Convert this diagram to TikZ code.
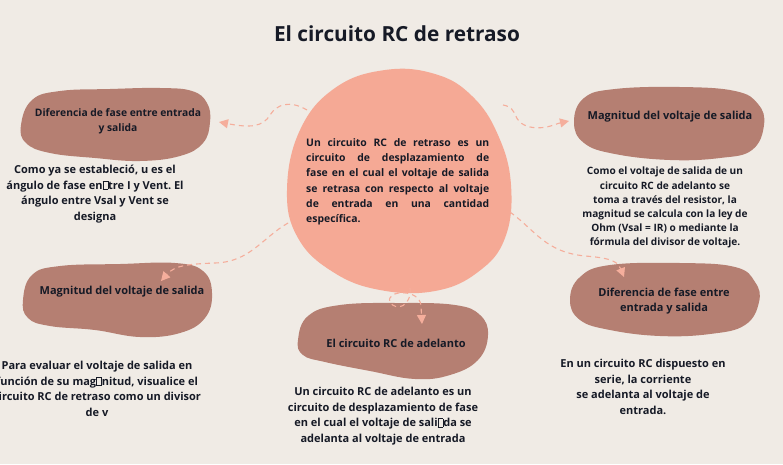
\documentclass[tikz,border=0pt]{standalone}
\usepackage{fontspec}
\setmainfont{Open Sans}
\usetikzlibrary{arrows.meta}
\frenchspacing
\definecolor{bg}{HTML}{F0EBE5}
\definecolor{blobbrown}{HTML}{B57F72}
\definecolor{blobsalmon}{HTML}{F5A995}
\definecolor{conncol}{HTML}{F5AE9C}
\definecolor{txt}{HTML}{161A26}
\newcommand\nogl{{\setlength\fboxsep{0pt}\setlength\fboxrule{0.5pt}\fbox{\rule{0pt}{7.8pt}\hspace{4.6pt}}}}
\newcommand\jline[1]{\makebox[183pt][s]{#1}}
\tikzset{
  brownblob/.style={fill=blobbrown, draw=none},
  centreblob/.style={fill=blobsalmon, draw=none},
  lbl/.style={text=txt, font=\fontsize{11}{15}\selectfont\bfseries, align=center, inner sep=0pt},
  desc/.style={text=txt, font=\fontsize{11}{15.5}\selectfont\bfseries, align=center, inner sep=0pt},
  descs/.style={text=txt, font=\fontsize{10.1}{14.2}\selectfont\bfseries, align=center, inner sep=0pt},
  conn/.style={draw=conncol, line width=1.1pt, dash pattern=on 5pt off 4pt,
     -{Triangle[length=9pt,width=9pt]}},
}
\begin{document}
\begin{tikzpicture}[x=1pt,y=-1pt]
\fill[bg] (0,0) rectangle (783,464);
\useasboundingbox (0,0) rectangle (783,464);
\clip (0,0) rectangle (783,464);

% title
\node[text=txt, font=\fontsize{20.8}{24}\selectfont\bfseries, inner sep=0pt] (title) at (397,34) {El circuito RC de retraso};

% blobs
\fill[centreblob] plot[smooth cycle, tension=0.7] coordinates {
 (385,70) (435,74) (472,96) (498,135) (511,185) (505,238) (478,272) (435,291) (380,290) (333,272) (298,238) (287,190) (300,130) (335,88)};
\fill[brownblob] plot[smooth cycle, tension=0.7] coordinates {
 (21,125) (32,100) (60,91) (110,89) (160,88) (192,91) (207,103) (210,122) (203,143) (180,156) (140,161) (95,158) (50,153) (26,143)};
\fill[brownblob] plot[smooth cycle, tension=0.7] coordinates {
 (574,122) (584,98) (615,89) (680,87) (735,91) (758,104) (764,125) (752,150) (720,158) (670,160) (615,154) (584,143)};
\fill[brownblob] plot[smooth cycle, tension=0.7] coordinates {
 (23,300) (32,275) (60,266) (120,264) (175,263) (203,271) (212,293) (205,318) (180,333) (140,337) (95,330) (50,326) (28,318)};
\fill[brownblob] plot[smooth cycle, tension=0.7] coordinates {
 (298,340) (308,316) (340,305) (400,303) (455,305) (480,315) (488,335) (478,360) (450,375) (415,379) (370,371) (325,362) (303,355)};
\fill[brownblob] plot[smooth cycle, tension=0.7] coordinates {
 (570,300) (580,277) (610,265) (680,263) (735,267) (755,282) (759,302) (745,325) (710,334) (660,336) (610,330) (580,320)};

% labels in blobs
\node[lbl, font=\fontsize{10.3}{15}\selectfont\bfseries] (l1) at (118,121) {Diferencia de fase entre entrada\\y salida};
\node[lbl] (l2) at (670,117) {Magnitud del voltaje de salida};
\node[lbl] (l3) at (122,292) {Magnitud del voltaje de salida};
\node[lbl] (l4) at (396,343) {El circuito RC de adelanto};
\node[lbl] (l5) at (664,301) {Diferencia de fase entre\\entrada y salida};

% centre text
\node[text=txt, font=\fontsize{10.4}{15.3}\selectfont\bfseries, align=left, inner sep=0pt, anchor=north west] (ctext) at (306,138) {%
\jline{Un circuito RC de retraso es un}\\
\jline{circuito de desplazamiento de}\\
\jline{fase en el cual el voltaje de salida}\\
\jline{se retrasa con respecto al voltaje}\\
\jline{de entrada en una cantidad}\\
específica.};

% descriptions
\node[desc, anchor=north] (d1) at (95,165) {Como ya se estableció, u es el\\ángulo de fase en\nogl tre I y Vent. El\\ángulo entre Vsal y Vent se\\designa};
\node[descs, anchor=north] (d2) at (665,167) {Como el voltaje de salida de un\\circuito RC de adelanto se\\toma a través del resistor, la\\magnitud se calcula con la ley de\\Ohm (Vsal = IR) o mediante la\\fórmula del divisor de voltaje.};
\node[desc, anchor=north] (d3) at (97,361) {Para evaluar el voltaje de salida en\\función de su mag\nogl nitud, visualice el\\circuito RC de retraso como un divisor\\de v};
\node[desc, anchor=north] (d4) at (383,387) {Un circuito RC de adelanto es un\\circuito de desplazamiento de fase\\en el cual el voltaje de sali\nogl da se\\adelanta al voltaje de entrada};
\node[desc, anchor=north] (d5) at (643,359) {En un circuito RC dispuesto en\\serie, la corriente\\se adelanta al voltaje de\\entrada.};

% connector end points
\coordinate (c1s) at (307,110);
\coordinate (c1e) at (219,122);
\coordinate (c2s) at (503,105);
\coordinate (c2e) at (569,121);
\coordinate (c3s) at (288,223);
\coordinate (c3e) at (161,281);
\coordinate (c4s) at (510,212);
\coordinate (c4e) at (624,277);
\coordinate (c5s) at (410,288);
\coordinate (c5e) at (422,324);

\draw[conn] (c1s) .. controls (290,100) and (277,104) .. (270,115)
  .. controls (263,127) and (250,128) .. (c1e);
\draw[conn] (c2s) .. controls (520,108) and (510,122) .. (530,127)
  .. controls (545,130) and (555,124) .. (c2e);
\draw[conn] (c3s) .. controls (262,238) and (250,262) .. (215,263)
  .. controls (190,264) and (175,265) .. (c3e);
\draw[conn] (c4s) .. controls (535,230) and (545,252) .. (585,256)
  .. controls (612,258) and (618,262) .. (c4e);
\draw[conn] (c5s) .. controls (412,306) and (396,312) .. (390,302)
  .. controls (385,290) and (420,288) .. (421,306) -- (c5e);
\end{tikzpicture}
\end{document}
